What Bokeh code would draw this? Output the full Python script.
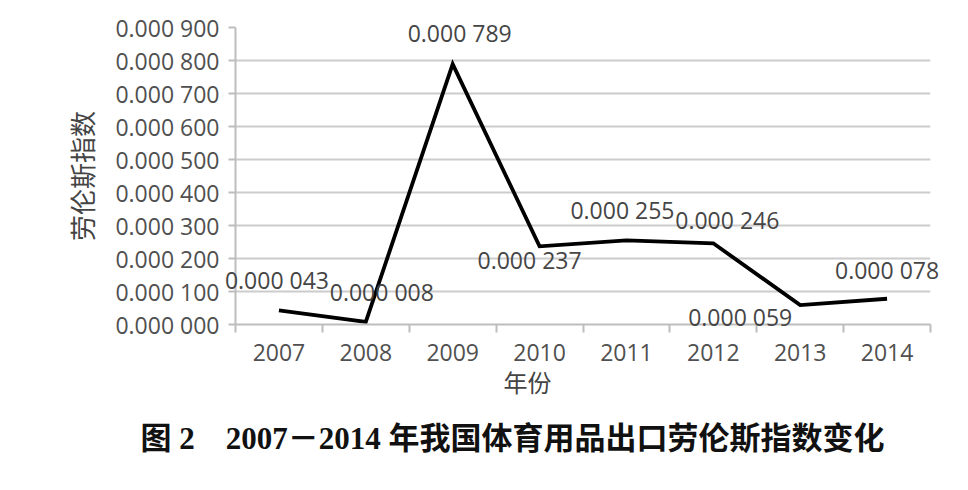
import numpy as np
from bokeh.plotting import figure
from bokeh.models import (ColumnDataSource, Range1d, FixedTicker, CustomJSTickFormatter, Title)
from bokeh.core.properties import value
from bokeh.embed import file_html
from bokeh.resources import INLINE

# ---- data ----
years = ["2007", "2008", "2009", "2010", "2011", "2012", "2013", "2014"]
lawrence = [0.000043, 0.000008, 0.000789, 0.000237, 0.000255, 0.000246, 0.000059, 0.000078]
y_ticks = [0.0, 0.0001, 0.0002, 0.0003, 0.0004, 0.0005, 0.0006, 0.0007, 0.0008, 0.0009]
y_title = "劳伦斯指数"
x_title = "年份"
caption = "图 2　2007－2014 年我国体育用品出口劳伦斯指数变化"

# label placement offsets (pixels), style only
lbl_dx = [-2, 16, 7, -10, -4, 14, -60, 0]
lbl_dy = [-30, -30, -31, 14, -30, -23, 12, -29]


def fmt(v):
    s = f"{v:.6f}"
    return s[:5] + " " + s[5:]


xs = np.arange(len(years)) + 0.5
src = ColumnDataSource(dict(
    x=xs, y=lawrence, label=[fmt(v) for v in lawrence], dx=lbl_dx, dy=lbl_dy))

W, H = 952, 478
p = figure(width=W, height=H, output_backend="svg", toolbar_location=None,
           x_range=Range1d(0, len(years)), y_range=Range1d(0, 0.0009),
           min_border_left=235, min_border_right=W - 930, min_border_top=27,
           min_border_bottom=H - 324)
p.outline_line_color = None
p.background_fill_color = "white"
p.border_fill_color = "white"

TICK_FONT = "Open Sans"
TICK_COLOR = "#505050"
NUM_SIZE = "23px"

# y axis
ya = p.yaxis[0]
ya.ticker = FixedTicker(ticks=y_ticks)
ya.formatter = CustomJSTickFormatter(code="""
const n = Math.round(tick * 1e6);
return "0.000 " + String(n).padStart(3, "0");
""")
ya.major_label_text_font = TICK_FONT
ya.major_label_text_font_size = NUM_SIZE
ya.major_label_text_color = TICK_COLOR
ya.major_tick_out = 7
ya.major_tick_in = 0
ya.major_tick_line_color = "#bdbdbd"
ya.major_tick_line_width = 2
ya.minor_tick_line_color = None
ya.axis_line_color = "#bdbdbd"
ya.axis_line_width = 2
ya.major_label_standoff = 9
ya.axis_label = y_title
ya.axis_label_text_font = "Noto Sans CJK SC"
ya.axis_label_text_font_size = "26px"
ya.axis_label_text_font_style = "normal"
ya.axis_label_text_color = "#444444"
ya.axis_label_standoff = 12

# x axis: labels at band centres, ticks at band boundaries
xa = p.xaxis[0]
xa.ticker = FixedTicker(ticks=list(xs), minor_ticks=list(range(len(years) + 1)))
xa.formatter = CustomJSTickFormatter(args=dict(labels=years),
                                     code="return labels[Math.floor(tick)];")
xa.major_label_text_font = TICK_FONT
xa.major_label_text_font_size = NUM_SIZE
xa.major_label_text_color = TICK_COLOR
xa.major_tick_line_color = None
xa.major_tick_out = 0
xa.major_tick_in = 0
xa.minor_tick_out = 8
xa.minor_tick_in = 0
xa.minor_tick_line_color = "#bdbdbd"
xa.minor_tick_line_width = 2
xa.axis_line_color = "#bdbdbd"
xa.axis_line_width = 2
xa.major_label_standoff = 11

p.xgrid.grid_line_color = None
p.ygrid.grid_line_color = "#cccccc"
p.ygrid.grid_line_width = 2
p.ygrid.ticker = FixedTicker(ticks=y_ticks)

p.line("x", "y", source=src, line_color="black", line_width=3.8, line_join="miter")

p.text("x", "y", text="label", source=src, x_offset="dx", y_offset="dy",
       text_align="center", text_baseline="middle", level="overlay",
       text_font=value(TICK_FONT), text_font_size=NUM_SIZE, text_color="#454545")

# x-axis title and figure caption below the plot
p.add_layout(Title(text=x_title, align="left", offset=268, standoff=0,
                   vertical_align="top", text_font="Noto Sans CJK SC",
                   text_font_size="24px", text_font_style="normal",
                   text_color="#444444"), "below")
p.add_layout(Title(text=caption, align="left", offset=-95, standoff=40,
                   vertical_align="top",
                   text_font="'Liberation Serif', 'Noto Sans CJK SC'",
                   text_font_size="31px", text_font_style="bold",
                   text_color="#111111"), "below")

open("out.html", "w").write(file_html(p, INLINE))
